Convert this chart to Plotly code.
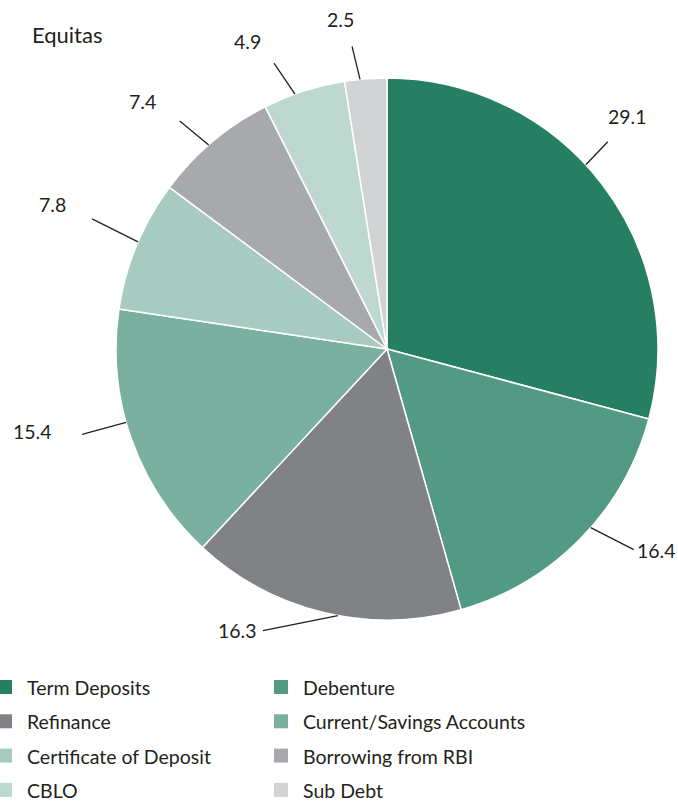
import math
import plotly.graph_objects as go

# ---------------- data ----------------
categories = ["Term Deposits", "Debenture", "Refinance", "Current/Savings Accounts",
              "Certificate of Deposit", "Borrowing from RBI", "CBLO", "Sub Debt"]
values = [29.1, 16.4, 16.3, 15.4, 7.8, 7.4, 4.9, 2.5]
value_labels = ["29.1", "16.4", "16.3", "15.4", "7.8", "7.4", "4.9", "2.5"]
colors = ["#267F62", "#529A83", "#808285", "#7AB09F",
          "#A7CBC0", "#A7A9AC", "#BDD9CF", "#D1D3D4"]
title_text = "Equitas"

# ---------------- styling / layout ----------------
W, H = 678, 802
CX, CY, R = 387, 349, 271          # pie centre / radius in pixels
FONT = "Lato"
TXT = "#231F20"
# leader-line styling per slice (angle nudge in deg, line vector px, label offset px)
label_nudge = [5.3, 3.3, 3.1, -3.6, -0.75, 1.1, 2.0, 1.2]
line_vec = [(22, -23), (43, 22), (-75, 15), (-44, 12), (-46, -23), (-29, -24), (-21, -31), (-8, -33)]
label_off = [(20, -25), (23, 1), (-25, 0), (-50, -3), (-40, -14), (-37, -19), (-26, -22), (-12, -27)]
# legend grid (2 columns)
LEG_COL_X = [-2, 274]     # left edge of swatch per column (px)
LEG_TEXT_GAP = 25         # swatch left -> text start
LEG_ROW0 = 687            # centre of first row (px)
LEG_ROW_STEP = 34.3
SW = 14                   # swatch size

dom_x = [(CX - R) / W, (CX + R) / W]
dom_y = [1 - (CY + R) / H, 1 - (CY - R) / H]


def px(x):
    return x / W


def py(y):
    return 1 - y / H


fig = go.Figure(go.Pie(
    labels=categories,
    values=values,
    sort=False,
    direction="clockwise",
    rotation=0,
    marker=dict(colors=colors, line=dict(color="white", width=1.5)),
    textinfo="none",
    hoverinfo="label+value",
    domain=dict(x=dom_x, y=dom_y),
    showlegend=False,
))

shapes = []
annotations = []
total = sum(values)
cum = 0.0
for i, v in enumerate(values):
    mid = 90 - (cum + v / 2) / total * 360 + label_nudge[i]
    cum += v
    a = math.radians(mid)
    sx = CX + R * math.cos(a)
    sy = CY - R * math.sin(a)
    ex = sx + line_vec[i][0]
    ey = sy + line_vec[i][1]
    shapes.append(dict(type="line", xref="paper", yref="paper",
                       x0=px(sx), y0=py(sy), x1=px(ex), y1=py(ey),
                       line=dict(color=TXT, width=1.3)))
    annotations.append(dict(xref="paper", yref="paper",
                            x=px(ex + label_off[i][0]), y=py(ey + label_off[i][1]),
                            text=value_labels[i], showarrow=False,
                            xanchor="center", yanchor="middle",
                            font=dict(family=FONT, size=19.5, color=TXT)))

# legend (two columns, row-major like the reference)
for i, name in enumerate(categories):
    col = i % 2
    row = i // 2
    cy = LEG_ROW0 + row * LEG_ROW_STEP
    x0 = LEG_COL_X[col]
    shapes.append(dict(type="rect", xref="paper", yref="paper",
                       x0=px(x0), x1=px(x0 + SW), y0=py(cy + SW / 2), y1=py(cy - SW / 2),
                       fillcolor=colors[i], line=dict(width=0)))
    annotations.append(dict(xref="paper", yref="paper",
                            x=px(x0 + LEG_TEXT_GAP + 2), y=py(cy + 0.5),
                            text=name, showarrow=False,
                            xanchor="left", yanchor="middle",
                            font=dict(family=FONT, size=19.5, color=TXT)))

annotations.append(dict(xref="paper", yref="paper", x=px(30), y=py(34),
                        text=title_text, showarrow=False,
                        xanchor="left", yanchor="middle",
                        font=dict(family=FONT, size=22, color=TXT)))

fig.update_layout(
    width=W, height=H,
    margin=dict(l=0, r=0, t=0, b=0, autoexpand=False),
    paper_bgcolor="white", plot_bgcolor="white",
    font=dict(family=FONT, color=TXT),
    showlegend=False,
    shapes=shapes,
    annotations=annotations,
)

fig.write_html("out.html",
               config={"displayModeBar": False},
               post_script="document.body.style.margin='0px';document.body.style.overflow='hidden';")
